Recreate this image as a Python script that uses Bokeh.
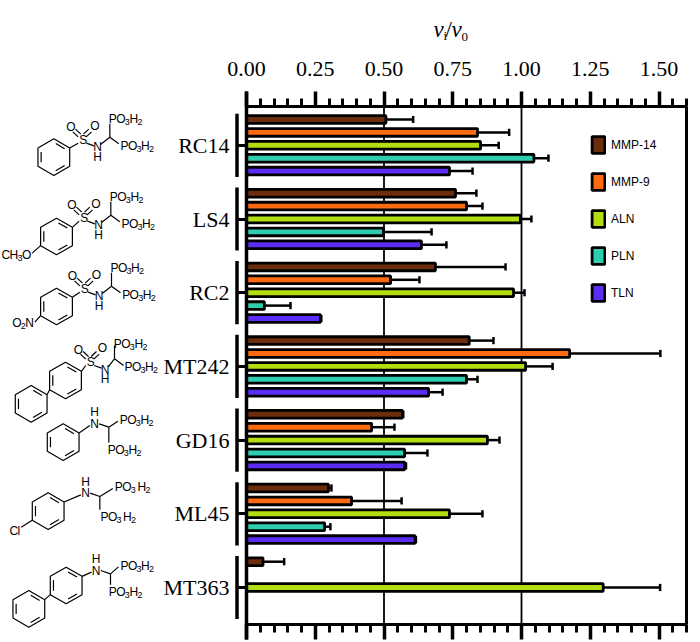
import math
from bokeh.core.properties import value
from bokeh.embed import file_html
from bokeh.models import ColumnDataSource, FixedTicker, Legend, LegendItem, LinearAxis, Range1d
from bokeh.plotting import figure
from bokeh.resources import INLINE

compounds = ["RC14", "LS4", "RC2", "MT242", "GD16", "ML45", "MT363"]
series_names = ["MMP-14", "MMP-9", "ALN", "PLN", "TLN"]
# mean, upper error end (None = not measured)
mmp14 = [0.507, 0.76, 0.687, 0.81, 0.567, 0.298, 0.06]
mmp14_hi = [0.606, 0.836, 0.942, 0.898, 0.570, 0.309, 0.137]
mmp9 = [0.84, 0.80, 0.524, 1.175, 0.455, 0.382, None]
mmp9_hi = [0.955, 0.858, 0.629, 1.505, 0.538, 0.564, None]
aln = [0.851, 0.996, 0.971, 1.015, 0.876, 0.738, 1.297]
aln_hi = [0.917, 1.036, 1.011, 1.113, 0.92, 0.858, 1.504]
pln = [1.045, 0.498, 0.065, 0.80, 0.575, 0.284, None]
pln_hi = [1.098, 0.673, 0.16, 0.84, 0.658, 0.305, None]
tln = [0.738, 0.636, 0.269, 0.662, 0.575, 0.613, None]
tln_hi = [0.822, 0.727, 0.272, 0.713, 0.58, 0.616, None]
colors = ["#6B2D0B", "#FF6A10", "#B2DE10", "#2FCDB0", "#5B2CF5"]
major_ticks = [0.0, 0.25, 0.5, 0.75, 1.0, 1.25, 1.5]
minor_ticks = [0.05, 0.1, 0.15, 0.2, 0.3, 0.35, 0.4, 0.45, 0.55, 0.6, 0.65, 0.7, 0.8, 0.85, 0.9, 0.95,
               1.05, 1.1, 1.15, 1.2, 1.3, 1.35, 1.4, 1.45, 1.55, 1.6]
ref_lines = [0.5, 1.0]
x_max = 1.6

# layout (pixels of the page)
def X(px): return (px - 246) / 275
def Y(px): return (px - 119) / 12.9
GROUP_STEP = 73.7 / 12.9
TOP, BOTTOM = 106, 624

p = figure(width=700, height=642, output_backend="svg", toolbar_location=None,
           x_range=Range1d(X(0), X(700)), y_range=Range1d(Y(642), Y(0)),
           x_axis_location=None, y_axis_location=None, min_border=0,
           outline_line_color=None)
p.grid.visible = False
p.background_fill_color = "white"

# reference lines and frame
p.segment(x0=ref_lines, x1=ref_lines, y0=[Y(TOP)] * 2, y1=[Y(BOTTOM)] * 2, line_color="black", line_width=1.8)
p.segment(x0=[x_max], x1=[x_max], y0=[Y(TOP)], y1=[Y(BOTTOM)], line_color="black", line_width=3)

# bars
all_vals = [mmp14, mmp9, aln, pln, tln]
all_hi = [mmp14_hi, mmp9_hi, aln_hi, pln_hi, tln_hi]
BAR_H = 0.6
legend_items = []
for s, (name, vals, his, col) in enumerate(zip(series_names, all_vals, all_hi, colors)):
    idx = [i for i, v in enumerate(vals) if v is not None]
    ys = [i * GROUP_STEP + s for i in idx]
    v = [vals[i] for i in idx]
    h = [his[i] for i in idx]
    p.segment(x0=v, x1=h, y0=ys, y1=ys, line_color="black", line_width=2.5)
    p.segment(x0=h, x1=h, y0=[y - 0.28 for y in ys], y1=[y + 0.28 for y in ys], line_color="black", line_width=2.5)
    r = p.hbar(y=ys, left=[0] * len(ys), right=v, height=BAR_H, fill_color=col, line_color="black", line_width=2.8)
    legend_items.append(LegendItem(label=name, renderers=[r]))

# group brackets
g_ys = [i * GROUP_STEP + 2 for i in range(len(compounds))]
p.segment(x0=[X(236.5)] * 7, x1=[X(236.5)] * 7, y0=[y - 2.45 for y in g_ys], y1=[y + 2.45 for y in g_ys],
          line_color="black", line_width=3.5)

def make_x_axis(ypx, labels):
    ax = LinearAxis(fixed_location=Y(ypx), ticker=FixedTicker(ticks=major_ticks, minor_ticks=minor_ticks),
                    bounds=(0, x_max))
    ax.axis_line_width = 3
    ax.major_tick_line_width = 3.5
    ax.minor_tick_line_width = 3
    ax.major_tick_in = 0
    ax.minor_tick_in = 0
    ax.major_tick_out = 15
    ax.minor_tick_out = 8
    ax.major_label_text_font = "Liberation Serif"
    ax.major_label_text_font_size = "22px"
    ax.major_label_text_color = "black" if labels else None
    ax.major_label_standoff = 16
    return ax

ax_top = make_x_axis(TOP, True)
ax_top.formatter.use_scientific = False
ax_top.major_label_overrides = {t: f"{t:.2f}" for t in major_ticks}
p.add_layout(ax_top, "above")
p.add_layout(make_x_axis(BOTTOM, False), "below")

ax_y = LinearAxis(fixed_location=0, ticker=FixedTicker(ticks=g_ys), bounds=(Y(TOP - 15), Y(BOTTOM + 15)))
ax_y.major_label_overrides = {y: c for y, c in zip(g_ys, compounds)}
ax_y.axis_line_width = 3.5
ax_y.major_tick_line_width = 3
ax_y.major_tick_in = 0
ax_y.major_tick_out = 9
ax_y.minor_tick_line_color = None
ax_y.major_label_text_font = "Liberation Serif"
ax_y.major_label_text_font_size = "22px"
ax_y.major_label_text_color = "black"
ax_y.major_label_standoff = 8
p.add_layout(ax_y, "left")

# axis title v_i/v_0
def serif(px, py, t, size, style="normal"):
    p.text(x=[X(px)], y=[Y(py)], text=[t], text_font=value("Liberation Serif"), text_font_size=f"{size}px",
           text_font_style=style, text_baseline="middle", text_align="left", text_color="black")
serif(433, 29, "v", 23, "italic")
serif(443, 35, "i", 13)
serif(445, 29, "/", 23)
serif(451, 29, "v", 23, "italic")
serif(461, 36, "0", 13)

# legend
legend = Legend(items=legend_items, location=(590, 339), orientation="vertical", spacing=16,
                glyph_width=16, glyph_height=21, label_standoff=5, padding=0, margin=0,
                border_line_color=None, background_fill_alpha=0,
                label_text_font="Liberation Sans", label_text_font_size="12px", label_text_color="black",
                label_height=21)
p.add_layout(legend)

# ---- structure drawings (decoration, in zoomed-crop coordinates: 3 units = 1 px) ----
seg_xs, seg_ys = [], []
def line(pts):
    seg_xs.append([X(a / 3) for a, _ in pts])
    seg_ys.append([Y(b) for _, b in pts])

def zy(y, crop):
    return (90 if crop == 0 else 360) + y / 3

def bond(a, b, crop):
    line([(a[0], zy(a[1], crop)), (b[0], zy(b[1], crop))])

def ring_vertex(c, k, r=55):
    ang = math.radians(30 + 60 * k)
    return (c[0] + r * math.cos(ang), c[1] - r * math.sin(ang))

def ring(c, crop, r=55, inner=(0, 2, 4)):
    vs = [ring_vertex(c, k, r) for k in range(6)]
    line([(a, zy(b, crop)) for a, b in vs + vs[:1]])
    ins = [ring_vertex(c, k, r * 0.8) for k in range(6)]
    for k in inner:
        a, b = ins[k], ins[(k + 1) % 6]
        a2 = (a[0] * 0.85 + b[0] * 0.15, a[1] * 0.85 + b[1] * 0.15)
        b2 = (b[0] * 0.85 + a[0] * 0.15, b[1] * 0.85 + a[1] * 0.15)
        bond(a2, b2, crop)

SUB = {"2", "3"}
WIDE = {"P": 7.4, "O": 8.6, "H": 8.0, "N": 8.0, "C": 8.0, "l": 2.6, "S": 7.4}
chem_x, chem_y, chem_t, chem_sz = [], [], [], []
def chem(zx, zyv, crop, t, gap=0.0):
    x = zx / 3
    y = zy(zyv, crop)
    for ch in t:
        if ch in SUB:
            chem_x.append(X(x)); chem_y.append(Y(y + 3)); chem_t.append(ch); chem_sz.append("9px")
            x += 4.6 + gap
        else:
            chem_x.append(X(x)); chem_y.append(Y(y)); chem_t.append(ch); chem_sz.append("12px")
            x += WIDE.get(ch, 8)

def sulfonamide(S, crop, rc=(-85, 52), C=(83, -8), up=(80, -62), right=(115, 17)):
    sx, sy = S
    chem(sx - 9, sy, crop, "S")
    ring((sx + rc[0], sy + rc[1]), crop)
    bond(ring_vertex((sx + rc[0], sy + rc[1]), 0), (sx - 12, sy + 10), crop)
    for d in (-4, 4):
        bond((sx - 8 + d, sy - 13 - d), (sx - 24 + d, sy - 28 - d), crop)
        bond((sx + 8 + d, sy - 13 + d), (sx + 24 + d, sy - 28 + d), crop)
    chem(sx - 48, sy - 38, crop, "O")
    chem(sx + 24, sy - 43, crop, "O")
    bond((sx + 13, sy + 10), (sx + 35, sy + 18), crop)
    chem(sx + 33, sy + 22, crop, "N")
    chem(sx + 33, sy + 50, crop, "H")
    cx, cy = sx + C[0], sy + C[1]
    bond((sx + 55, sy + 14), (cx, cy), crop)
    bond((cx, cy), (cx, cy - 40), crop)
    bond((cx, cy), (cx + 27, cy + 20), crop)
    chem(sx + up[0], sy + up[1], crop, "PO3H2")
    chem(sx + right[0], sy + right[1], crop, "PO3H2")

def amine(N, rc, crop, up=(76, -12), low=(40, 78), gap=0.0):
    nx, ny = N
    chem(nx - 13, ny, crop, "N")
    chem(nx - 13, ny - 35, crop, "H")
    ring(rc, crop)
    bond(ring_vertex(rc, 0), (nx - 14, ny + 5), crop)
    cx, cy = nx + 43, ny + 10
    bond((nx + 14, ny), (cx, cy), crop)
    bond((cx, cy), (nx + up[0] - 6, ny + up[1] + 4), crop)
    bond((cx, cy), (cx, ny + low[1] - 22), crop)
    chem(nx + up[0], ny + up[1], crop, "PO3H2", gap)
    chem(nx + low[0], ny + low[1], crop, "PO3H2", gap)

def biphenyl_link(rc1, rc2, crop):
    ring(rc2, crop)
    bond(ring_vertex(rc1, 3), ring_vertex(rc2, 0), crop)

# RC14, LS4, RC2
sulfonamide((245, 148), 0)
sulfonamide((248, 382), 0, rc=(-80, 56))
bond(ring_vertex((168, 438), 3), (95, 488), 0)
chem(3, 493, 0, "CH3O")
sulfonamide((250, 595), 0, rc=(-82, 53))
bond(ring_vertex((168, 648), 3), (103, 695), 0)
chem(35, 698, 0, "O2N")
# MT242
sulfonamide((268, 815), 0, rc=(-73, 55), C=(74, -10), up=(72, -55), right=(104, 13))
biphenyl_link((195, 60), (92, 130), 1)
# GD16
amine((282, 190), (188, 245), 1)
# ML45
amine((255, 398), (143, 452), 1, up=(88, -18), low=(45, 72), gap=2)
bond(ring_vertex((143, 452), 3), (62, 500), 1)
chem(27, 510, 1, "Cl")
# MT363
amine((287, 630), (197, 675), 1, up=(73, -15), low=(38, 65))
biphenyl_link((197, 675), (85, 745), 1)

p.multi_line(xs=seg_xs, ys=seg_ys, line_color="black", line_width=1.2)
src = ColumnDataSource(dict(x=chem_x, y=chem_y, t=chem_t, s=chem_sz))
p.text(x="x", y="y", text="t", text_font_size="s", source=src, text_font=value("Liberation Sans"),
       text_baseline="middle", text_align="left", text_color="black")

open("out.html", "w").write(file_html(p, INLINE))
